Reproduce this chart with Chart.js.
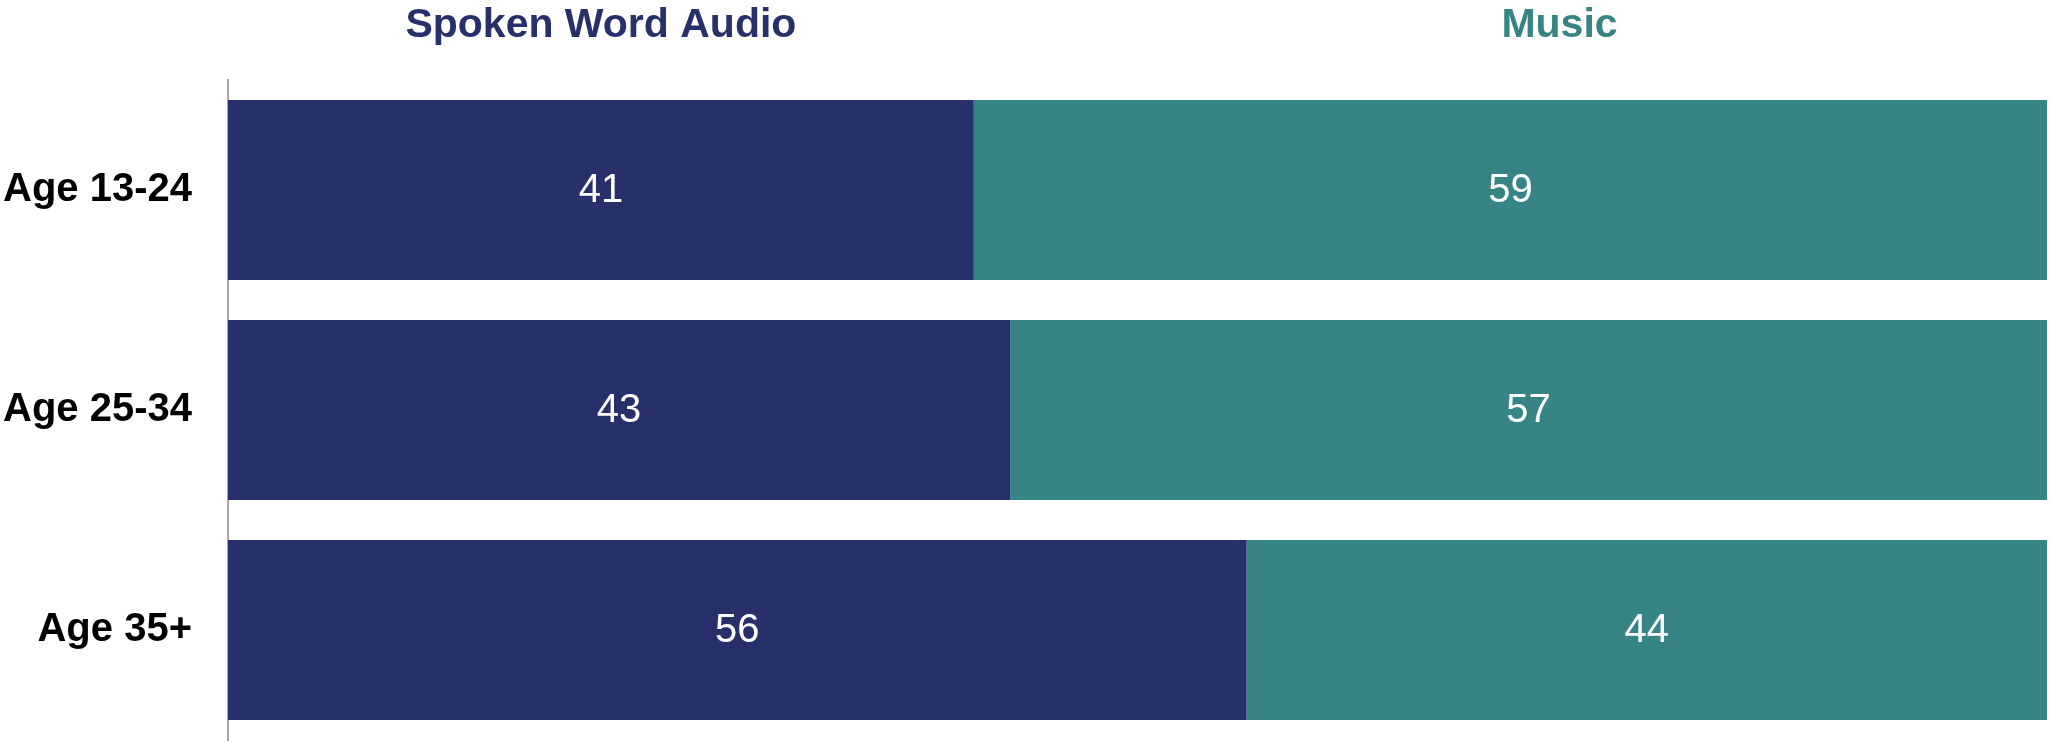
<!DOCTYPE html>
<html>
<head>
<meta charset="utf-8">
<script src="https://cdn.jsdelivr.net/npm/chart.js@4.4.0/dist/chart.umd.min.js"></script>
<style>
  html, body { margin: 0; padding: 0; background: #ffffff; overflow: hidden; }
  canvas { display: block; }
</style>
</head>
<body>
<canvas id="share-chart" width="2051" height="743"></canvas>
<script>
// 各年龄段的收听占比（%）
const ageGroups = ['Age 13-24', 'Age 25-34', 'Age 35+'];
const seriesNames = ['Spoken Word Audio', 'Music'];
const spokenWord = [41, 43, 56];
const music = [59, 57, 44];

const NAVY = '#27306b';
const TEAL = '#368483';
const FONT = '"Liberation Sans", Arial, Helvetica, sans-serif';

// 在每段条形中间写数值
const valueLabels = {
  id: 'valueLabels',
  afterDatasetsDraw(chart) {
    const ctx = chart.ctx;
    ctx.save();
    ctx.fillStyle = '#ffffff';
    ctx.font = '40px ' + FONT;
    ctx.textAlign = 'center';
    ctx.textBaseline = 'middle';
    chart.data.datasets.forEach((ds, i) => {
      const meta = chart.getDatasetMeta(i);
      meta.data.forEach((bar, j) => {
        const p = bar.getCenterPoint();
        ctx.fillText(String(ds.data[j]), p.x, p.y + 1);
      });
    });
    ctx.restore();
  }
};

// 顶部的系列标题（代替图例）
const seriesHeaders = {
  id: 'seriesHeaders',
  afterDraw(chart, args, opts) {
    const ctx = chart.ctx;
    const xScale = chart.scales.x;
    ctx.save();
    ctx.font = 'bold 41px ' + FONT;
    ctx.textAlign = 'center';
    ctx.textBaseline = 'alphabetic';
    chart.data.datasets.forEach((ds, i) => {
      ctx.fillStyle = ds.backgroundColor;
      ctx.fillText(ds.label, xScale.getPixelForValue(opts.anchors[i]), opts.baseline);
    });
    ctx.restore();
  }
};

new Chart(document.getElementById('share-chart'), {
  type: 'bar',
  data: {
    labels: ageGroups,
    datasets: [
      {
        label: seriesNames[0],
        data: spokenWord,
        backgroundColor: NAVY,
        borderWidth: 0
      },
      {
        label: seriesNames[1],
        data: music,
        backgroundColor: TEAL,
        borderWidth: 0
      }
    ]
  },
  options: {
    indexAxis: 'y',
    responsive: false,
    animation: false,
    devicePixelRatio: 1,
    barPercentage: 0.818,
    categoryPercentage: 1,
    layout: {
      padding: { top: 80, bottom: 3, right: 4, left: 0 }
    },
    plugins: {
      legend: { display: false },
      title: { display: false },
      tooltip: { enabled: false },
      seriesHeaders: { anchors: [20.5, 73.2], baseline: 37 }
    },
    scales: {
      x: {
        stacked: true,
        min: 0,
        max: 100,
        display: false
      },
      y: {
        stacked: true,
        grid: { display: false, drawTicks: false },
        border: { display: true, color: '#a6a6a6', width: 2 },
        ticks: {
          color: '#000000',
          padding: 36,
          font: { family: FONT, size: 40, weight: 'bold' }
        },
        afterFit(scale) {
          // 固定轴宽，并去掉刻度间距带来的上下留白
          scale.width = 228;
          scale.paddingTop = 0;
          scale.paddingBottom = 0;
        }
      }
    }
  },
  plugins: [valueLabels, seriesHeaders]
});
</script>
</body>
</html>
